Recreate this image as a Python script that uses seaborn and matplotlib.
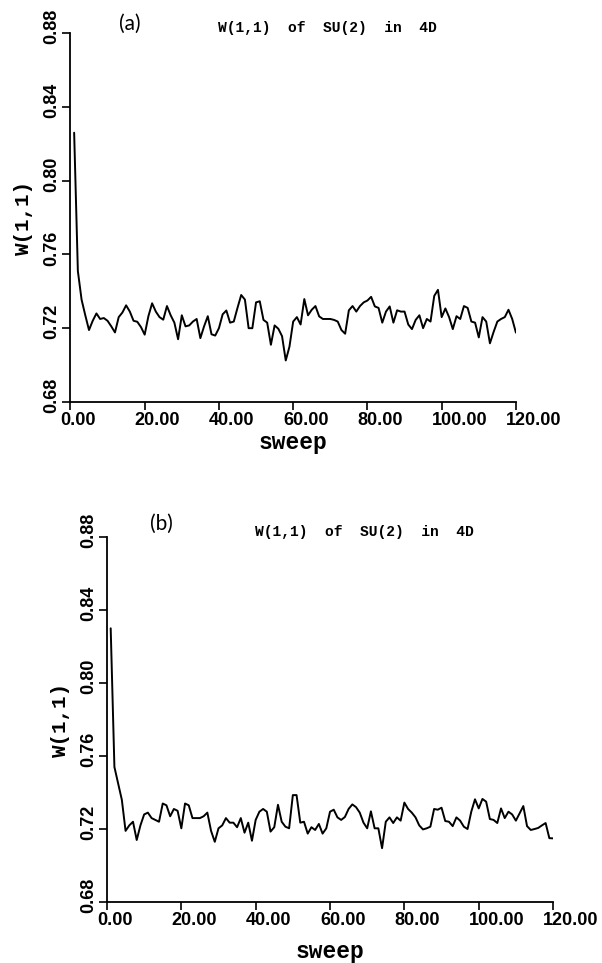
import numpy as np
import pandas as pd
import matplotlib
matplotlib.use("Agg")
import matplotlib.pyplot as plt
import matplotlib.transforms as mtransforms
import seaborn as sns

# ---------------- data ----------------
sweep = np.arange(1, 121)

w_a = [0.826, 0.751, 0.7355, 0.727, 0.719, 0.724, 0.728, 0.725, 0.7255, 0.724,
       0.721, 0.7177, 0.726, 0.7285, 0.7324, 0.729, 0.724, 0.7235, 0.7206, 0.7165,
       0.7265, 0.7335, 0.729, 0.726, 0.7246, 0.732, 0.727, 0.723, 0.714, 0.727,
       0.721, 0.7215, 0.7236, 0.725, 0.7146, 0.721, 0.7265, 0.7167, 0.716, 0.720,
       0.7275, 0.7296, 0.723, 0.7236, 0.731, 0.738, 0.7355, 0.720, 0.720, 0.734,
       0.7346, 0.7245, 0.723, 0.711, 0.7215, 0.7197, 0.7157, 0.7025, 0.710, 0.7236,
       0.726, 0.722, 0.7358, 0.727, 0.730, 0.732, 0.7264, 0.725, 0.725, 0.725,
       0.7245, 0.7236, 0.719, 0.717, 0.7297, 0.732, 0.729, 0.732, 0.734, 0.735,
       0.737, 0.7318, 0.731, 0.723, 0.729, 0.7318, 0.723, 0.7297, 0.729, 0.729,
       0.722, 0.7195, 0.7245, 0.727, 0.720, 0.725, 0.7236, 0.7375, 0.7408, 0.726,
       0.7307, 0.726, 0.7195, 0.7265, 0.725, 0.732, 0.731, 0.7236, 0.723, 0.715,
       0.726, 0.7236, 0.7118, 0.718, 0.7236, 0.725, 0.726, 0.730, 0.725, 0.7176]

w_b = [0.830, 0.754, 0.745, 0.736, 0.719, 0.722, 0.724, 0.714, 0.722, 0.728,
       0.729, 0.726, 0.725, 0.724, 0.734, 0.733, 0.727, 0.731, 0.730, 0.7204,
       0.734, 0.733, 0.726, 0.726, 0.726, 0.727, 0.729, 0.719, 0.713, 0.7204,
       0.722, 0.726, 0.7235, 0.7235, 0.721, 0.726, 0.718, 0.7235, 0.7136, 0.725,
       0.7295, 0.731, 0.7295, 0.7186, 0.721, 0.7333, 0.724, 0.7213, 0.7204, 0.7386,
       0.7386, 0.7235, 0.724, 0.7175, 0.721, 0.7195, 0.7228, 0.7175, 0.7204, 0.7295,
       0.7306, 0.7264, 0.725, 0.7266, 0.731, 0.7335, 0.732, 0.729, 0.7235, 0.7204,
       0.7297, 0.7204, 0.7204, 0.7095, 0.724, 0.7264, 0.7233, 0.7264, 0.7246, 0.7345,
       0.731, 0.729, 0.7264, 0.722, 0.7198, 0.7204, 0.7213, 0.731, 0.7306, 0.7317,
       0.7244, 0.724, 0.7216, 0.7264, 0.7246, 0.7213, 0.720, 0.7295, 0.7363, 0.7313,
       0.7365, 0.735, 0.7255, 0.725, 0.7233, 0.7313, 0.726, 0.7295, 0.728, 0.7246,
       0.7286, 0.7326, 0.7216, 0.7195, 0.720, 0.7206, 0.722, 0.7233, 0.715, 0.7149]

panel_labels = ["(a)", "(b)"]
title_text = "W(1,1)  of  SU(2)  in  4D"
x_ticks = [0, 20, 40, 60, 80, 100, 120]
y_ticks = [0.68, 0.72, 0.76, 0.80, 0.84, 0.88]

# ---------------- style ----------------
sns.set_theme(style="ticks")
plt.rcParams["font.family"] = ["Liberation Sans", "DejaVu Sans"]
for key in ["text.color", "axes.labelcolor", "xtick.color", "ytick.color",
            "axes.edgecolor"]:
    plt.rcParams[key] = "black"

fig = plt.figure(figsize=(6.02, 9.63), dpi=100)
ax_a = fig.add_axes([0.117, 0.5826, 0.740, 0.383])
ax_b = fig.add_axes([0.1777, 0.0633, 0.741, 0.379])

series = [w_a, w_b]
xlab_y = [-0.079, -0.104]
ylab_x = [-0.084, -0.083]
tag_pos = [(0.134, 1.025), (0.123, 1.036)]

x_shift = mtransforms.ScaledTranslation(-0.10, 0, fig.dpi_scale_trans)
y_shift = mtransforms.ScaledTranslation(0, 0.065, fig.dpi_scale_trans)

for i, ax in enumerate([ax_a, ax_b]):
    df = pd.DataFrame({"sweep": sweep, "W": series[i]})
    sns.lineplot(data=df, x="sweep", y="W", ax=ax, color="black",
                 linewidth=1.4, estimator=None)
    ax.set_xlim(0, 120)
    ax.set_ylim(0.68, 0.88)
    ax.set_xticks(x_ticks)
    ax.set_yticks(y_ticks)
    ax.set_xticklabels([f"{v:.2f}" for v in x_ticks], fontsize=13,
                       fontweight="bold", family="Liberation Sans")
    ax.set_yticklabels([f"{v:.2f}" for v in y_ticks], fontsize=13,
                       fontweight="bold", family="Liberation Sans",
                       rotation=90, va="center")
    ax.tick_params(axis="both", direction="out", length=6, width=1.2,
                   color="black", labelcolor="black")
    ax.tick_params(axis="x", pad=1)
    ax.tick_params(axis="y", pad=1)
    for lab in ax.get_xticklabels():
        lab.set_horizontalalignment("left")
        lab.set_transform(lab.get_transform() + x_shift)
    for lab in ax.get_yticklabels():
        lab.set_transform(lab.get_transform() + y_shift)
    for s in ["top", "right"]:
        ax.spines[s].set_visible(False)
    for s in ["left", "bottom"]:
        ax.spines[s].set_linewidth(1.3)
        ax.spines[s].set_color("black")
    ax.set_ylabel("W(1,1)", fontsize=15, fontweight="bold",
                  family="Liberation Mono", color="black")
    ax.yaxis.set_label_coords(ylab_x[i], 0.5)
    ax.set_xlabel("sweep", fontsize=16.5, fontweight="bold",
                  family="Liberation Mono", color="black")
    ax.xaxis.set_label_coords(0.5, xlab_y[i])
    ax.text(0.331, 1.014, title_text, transform=ax.transAxes, ha="left",
            va="center", fontsize=10.5, fontweight="bold",
            family="Liberation Mono", color="black")
    ax.text(tag_pos[i][0], tag_pos[i][1], panel_labels[i],
            transform=ax.transAxes, ha="center", va="center", fontsize=15,
            fontweight="normal", family=["Lato", "DejaVu Sans"], color="black")
    ax.grid(False)

fig.savefig("out.png", dpi=100, facecolor="white")
